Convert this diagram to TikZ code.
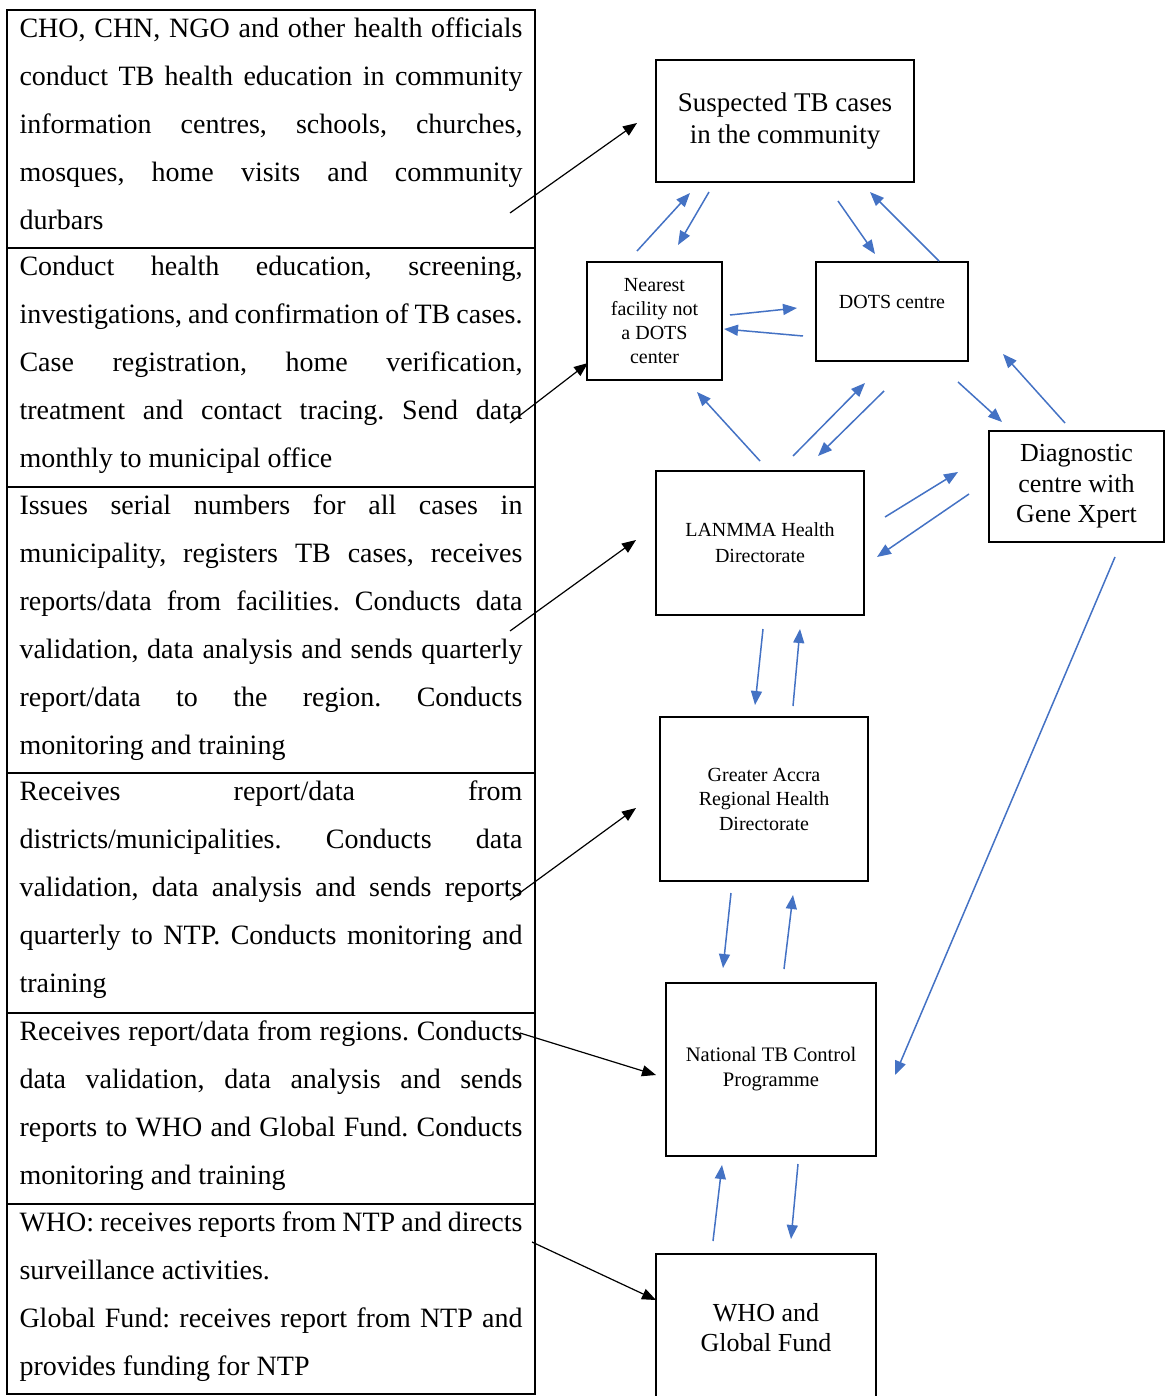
\documentclass[tikz,border=0pt]{standalone}
\usepackage{fontspec}
\setmainfont{Liberation Serif}
\usepackage{tikz}
\usetikzlibrary{arrows.meta, calc, positioning}
\definecolor{FlowBlue}{RGB}{68,114,196}
\frenchspacing

% one row of the left-hand table, text set from the top
\newcommand{\rowtext}[2]{\parbox[t][#1][t]{251.5pt}{\tolerance=9999\hbadness=10000\fontsize{14}{24}\selectfont\rule{0pt}{13.6pt}#2}}

\begin{document}
\begin{tikzpicture}[x=0.5pt, y=-0.5pt,
    box/.style={draw, line width=0.8pt, outer sep=0pt, align=center, inner sep=2pt},
    row/.style={draw, line width=0.8pt, anchor=north west, outer sep=0pt, inner xsep=6.25pt, inner ysep=0pt},
    flow/.style={FlowBlue, line width=0.75pt, -{Triangle[length=7pt, width=5.5pt]}},
    feed/.style={black, line width=0.6pt, -{Triangle[length=7pt, width=5.5pt]}}]
    \useasboundingbox (0,0) rectangle (1166,1396);

    % left table
    \node[row] (r1) at (7,10)   {\rowtext{119pt}{CHO, CHN, NGO and other health officials\linebreak conduct TB health education in community\linebreak information centres, schools, churches,\linebreak mosques, home visits and community\linebreak durbars}};
    \node[row] (r2) at (7,248)  {\rowtext{119.5pt}{Conduct health education, screening,\linebreak investigations, and confirmation of TB cases.\linebreak Case registration, home verification,\linebreak treatment and contact tracing. Send data\linebreak monthly to municipal office}};
    \node[row] (r3) at (7,487)  {\rowtext{143pt}{Issues serial numbers for all cases in\linebreak municipality, registers TB cases, receives\linebreak reports/data from facilities. Conducts data\linebreak validation, data analysis and sends quarterly\linebreak report/data to the region. Conducts\linebreak monitoring and training}};
    \node[row] (r4) at (7,773)  {\rowtext{120pt}{Receives report/data from\linebreak districts/municipalities. Conducts data\linebreak validation, data analysis and sends reports\linebreak quarterly to NTP. Conducts monitoring and\linebreak training}};
    \node[row] (r5) at (7,1013) {\rowtext{95.5pt}{Receives report/data from regions. Conducts\linebreak data validation, data analysis and sends\linebreak reports to WHO and Global Fund. Conducts\linebreak monitoring and training}};
    \node[row] (r6) at (7,1204) {\rowtext{95pt}{WHO: receives reports from NTP and directs\linebreak surveillance activities.\par Global Fund: receives report from NTP and\linebreak provides funding for NTP}};

    % right-hand boxes
    \node[box, minimum width=129pt, minimum height=61pt, font=\fontsize{13.5}{16}\selectfont] (S) at (785,121) {Suspected TB cases\\in the community};
    \node[box, minimum width=67.5pt, minimum height=59pt, font=\fontsize{10}{12}\selectfont] (N) at (654.5,321) {Nearest\\facility not\\a DOTS\\center};
    \node[box, minimum width=76pt, minimum height=49.5pt, label={[font=\fontsize{10}{12}\selectfont, yshift=5pt]center:DOTS centre}] (D) at (892,311.5) {};
    \node[box, minimum width=87.5pt, minimum height=55.5pt, font=\fontsize{13}{15.25}\selectfont] (G) at (1076.5,486.5) {Diagnostic\\centre with\\Gene Xpert};
    \node[box, minimum width=104pt, minimum height=72pt, font=\fontsize{10}{13}\selectfont] (L) at (760,543) {LANMMA Health\\Directorate};
    \node[box, minimum width=104pt, minimum height=82pt, font=\fontsize{10}{12.25}\selectfont] (R) at (764,799) {Greater Accra\\Regional Health\\Directorate};
    \node[box, minimum width=105pt, minimum height=86.5pt, font=\fontsize{10.3}{12.5}\selectfont] (T) at (771,1069.5) {National TB Control\\Programme};
    \node[box, minimum width=110pt, minimum height=74pt, font=\fontsize{13}{15}\selectfont] (W) at (766,1328) {WHO and\\Global Fund};

    % table rows to boxes
    \draw[feed] ($(r1.south east)+(-25,-35)$) -- ($(S.west)+(-19,2)$);
    \draw[feed] ($(r2.south east)+(-25,-64)$) -- ($(N.west)+(1,42)$);
    \draw[feed] ($(r3.east)+(-25,1)$) -- ($(L.west)+(-20,-3)$);
    \draw[feed] ($(r4.east)+(-25,7)$) -- ($(R.west)+(-24,9)$);
    \draw[feed] ($(r5.north east)+(-15,20)$) -- ($(T.west)+(-10,5.5)$);
    \draw[feed] ($(r6.north east)+(-3,38)$) -- ($(W.west)+(0,-28)$);

    % flows between boxes
    \draw[flow] ($(N.north)+(-17.5,-11)$) -- ($(S.south)+(-95,11)$);
    \draw[flow] ($(S.south)+(-76,10)$) -- ($(N.north)+(23.5,-17)$);
    \draw[flow] ($(S.south)+(53,19)$) -- ($(D.north)+(-17,-8)$);
    \draw[flow] ($(D.north)+(47,-1)$) -- ($(S.south)+(85,10)$);
    \draw[flow] ($(N.east)+(8,-6)$) -- ($(D.west)+(-19,-3.5)$);
    \draw[flow] ($(D.west)+(-13,24.5)$) -- ($(N.east)+(2,8)$);
    \draw[flow] ($(L.north)+(0,-10)$) -- ($(N.south)+(42.5,12)$);
    \draw[flow] ($(L.north)+(33,-15)$) -- ($(D.south)+(-27,22)$);
    \draw[flow] ($(D.south)+(-8,30)$) -- ($(L.north)+(58,-15)$);
    \draw[flow] ($(D.south east)+(-10,21)$) -- ($(G.north west)+(13,-9)$);
    \draw[flow] ($(G.north)+(-11.5,-8)$) -- ($(D.south east)+(35,-7)$);
    \draw[flow] ($(L.east)+(21,-26)$) -- ($(G.west)+(-31,-14.5)$);
    \draw[flow] ($(G.west)+(-20,7.5)$) -- ($(L.east)+(13,14)$);
    \draw[flow] ($(G.south)+(38.5,15)$) -- ($(T.east)+(19,5.5)$);
    \draw[flow] ($(L.south)+(3,14)$) -- ($(R.north)+(-9,-12)$);
    \draw[flow] ($(R.north)+(29,-11)$) -- ($(L.south)+(40,14)$);
    \draw[flow] ($(R.south)+(-33,12)$) -- ($(T.north)+(-48,-15)$);
    \draw[flow] ($(T.north)+(13,-14)$) -- ($(R.south)+(29,14)$);
    \draw[flow] ($(W.north)+(-53,-13)$) -- ($(T.south)+(-49,9)$);
    \draw[flow] ($(T.south)+(27,8)$) -- ($(W.north)+(25,-15)$);
\end{tikzpicture}
\end{document}
